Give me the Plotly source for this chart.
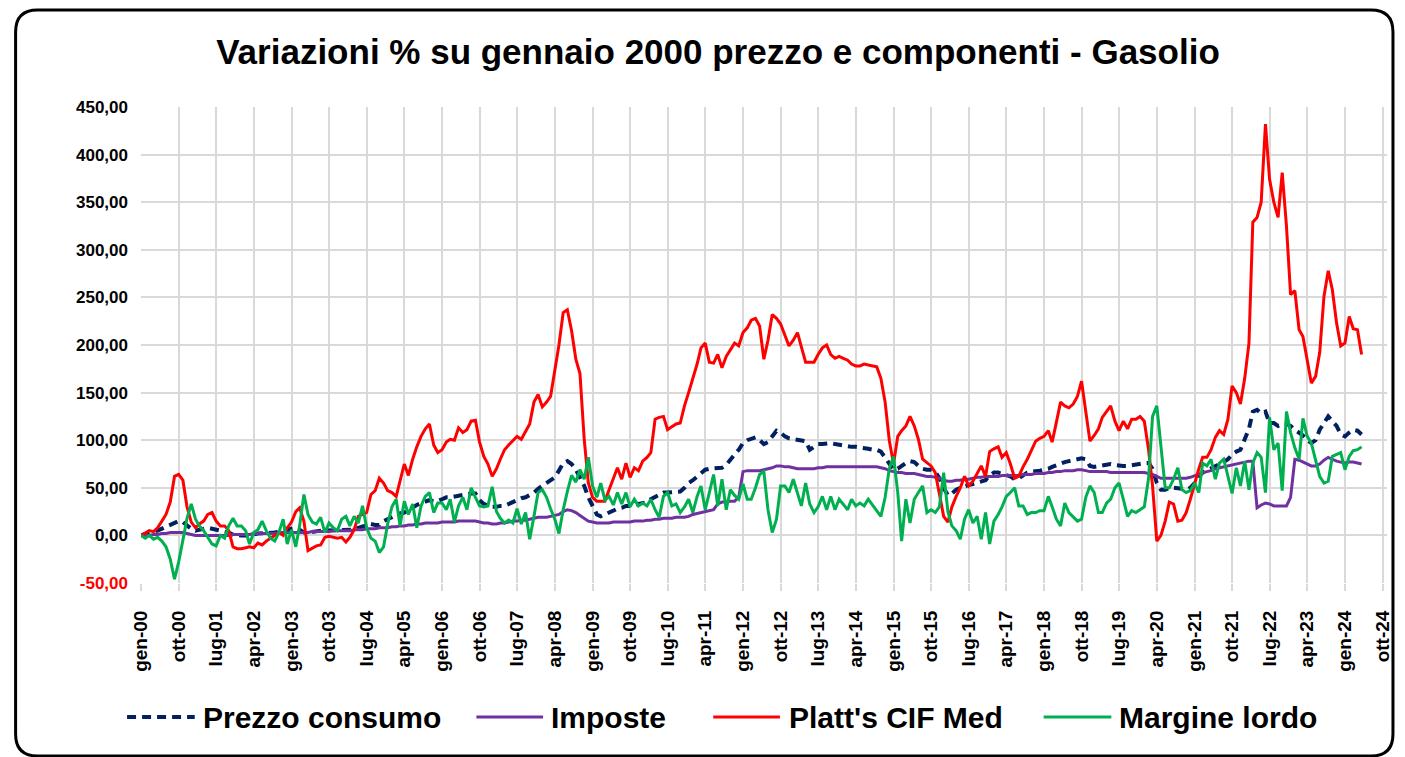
import pandas as pd
import plotly.graph_objects as go

# ---------------- DATA (monthly, gen-2000 .. mag-2024) ----------------
start_month = "2000-01-01"
n_months = 293

prezzo_consumo = (
    [0, 1, 3, 4, 5, 7, 9, 11, 13, 15, 14, 10] +
    [7, 5, 6, 8, 8, 7, 6, 5, 5, 3, 1, 0] +
    [0, 0, 0, 1, 2, 2, 3, 3, 3, 4, 5, 6] +
    [8, 8, 6, 3, 3, 4, 4, 5, 5, 5, 5, 5] +
    [5, 5, 5, 6, 8, 9, 10, 12, 11, 11, 15, 17] +
    [20, 21, 23, 24, 27, 30, 32, 34, 36, 37, 36, 36] +
    [38, 40, 40, 41, 41, 42, 43, 44, 44, 37, 33, 31] +
    [30, 30, 31, 31, 33, 35, 37, 39, 40, 42, 45, 49] +
    [52, 55, 58, 61, 68, 76, 78, 75, 69, 60, 52, 40] +
    [30, 22, 20, 22, 25, 27, 28, 29, 31, 31, 32, 32] +
    [34, 35, 38, 40, 43, 45, 45, 45, 45, 46, 50, 55] +
    [58, 62, 66, 69, 70, 70, 71, 71, 74, 80, 85, 90] +
    [97, 100, 102, 103, 100, 96, 98, 104, 110, 108, 104, 102] +
    [101, 100, 99, 99, 90, 93, 96, 96, 97, 97, 96, 95] +
    [94, 93, 93, 93, 92, 92, 91, 90, 90, 88, 82, 75] +
    [69, 70, 73, 76, 78, 77, 73, 70, 69, 69, 67, 60] +
    [50, 42, 44, 48, 50, 52, 53, 54, 55, 57, 58, 63] +
    [66, 66, 65, 64, 62, 59, 60, 63, 66, 67, 67, 68] +
    [69, 70, 72, 74, 76, 77, 78, 79, 80, 81, 80, 73] +
    [72, 73, 74, 75, 75, 74, 73, 73, 73, 74, 75, 75] +
    [76, 76, 70, 55, 48, 48, 50, 50, 50, 49, 48, 50] +
    [55, 62, 66, 68, 70, 73, 75, 77, 80, 85, 88, 90] +
    [101, 112, 130, 132, 128, 130, 118, 118, 115, 117, 117, 115] +
    [111, 108, 105, 100, 97, 100, 111, 118, 125, 120, 115, 106] +
    [104, 108, 111, 110, 106]
)

imposte = (
    [0, 0, 0, 1, 1, 2, 2, 3, 3, 3, 3, 2] +
    [1, 0, 0, 0, 0, 0, 0, 0, 0, 0, 1, 1] +
    [1, 1, 1, 2, 2, 2, 2, 2, 2, 3, 3, 3] +
    [3, 3, 3, 3, 3, 4, 4, 4, 4, 4, 5, 5] +
    [5, 5, 5, 6, 6, 6, 7, 7, 7, 8, 8, 8] +
    [9, 9, 10, 10, 11, 11, 12, 12, 13, 13, 13, 13] +
    [14, 14, 14, 14, 15, 15, 15, 15, 15, 14, 13, 13] +
    [12, 12, 13, 13, 14, 15, 15, 16, 16, 17, 18, 19] +
    [19, 19, 20, 21, 22, 25, 27, 26, 24, 21, 18, 15] +
    [14, 13, 13, 13, 13, 14, 14, 14, 14, 14, 15, 15] +
    [15, 16, 16, 17, 17, 18, 18, 18, 19, 19, 19, 20] +
    [22, 23, 24, 25, 26, 27, 33, 35, 35, 36, 36, 40] +
    [67, 68, 68, 68, 68, 69, 70, 71, 73, 73, 72, 72] +
    [71, 70, 70, 70, 70, 70, 71, 71, 72, 72, 72, 72] +
    [72, 72, 72, 72, 72, 72, 72, 72, 72, 71, 70, 68] +
    [67, 66, 66, 65, 65, 65, 64, 63, 62, 62, 61, 60] +
    [58, 57, 57, 58, 58, 59, 59, 60, 61, 61, 62, 62] +
    [62, 62, 63, 63, 63, 63, 63, 64, 64, 64, 65, 65] +
    [65, 66, 66, 67, 67, 68, 68, 68, 69, 69, 68, 67] +
    [67, 67, 67, 67, 66, 66, 66, 66, 66, 66, 66, 66] +
    [66, 65, 64, 62, 60, 60, 60, 60, 60, 60, 60, 61] +
    [63, 65, 66, 67, 68, 70, 71, 72, 73, 74, 75, 76] +
    [77, 78, 78, 29, 32, 34, 33, 31, 31, 31, 31, 40] +
    [80, 79, 77, 75, 73, 73, 75, 79, 82, 80, 78, 77] +
    [76, 77, 77, 76, 75]
)

platts_cif_med = (
    [0, 3, 5, 4, 8, 15, 22, 35, 62, 64, 58, 30] +
    [14, 8, 12, 15, 22, 24, 15, 10, 10, 5, -12, -14] +
    [-14, -13, -12, -13, -8, -10, -6, -3, 0, 3, 0, 8] +
    [14, 25, 29, 15, -16, -13, -11, -10, -2, -1, -2, -3] +
    [-2, -7, -2, 6, 20, 22, 24, 43, 47, 60, 55, 47] +
    [45, 41, 58, 75, 63, 80, 93, 104, 112, 117, 95, 87] +
    [90, 98, 101, 100, 113, 108, 111, 120, 121, 98, 83, 75] +
    [62, 70, 80, 90, 95, 100, 104, 101, 110, 117, 140, 148] +
    [135, 140, 146, 174, 200, 234, 237, 215, 185, 170, 101, 55] +
    [40, 36, 36, 36, 48, 60, 71, 59, 76, 61, 71, 68] +
    [78, 82, 87, 122, 124, 125, 111, 114, 117, 118, 136, 150] +
    [165, 180, 197, 202, 182, 181, 190, 176, 188, 195, 202, 199] +
    [213, 218, 226, 228, 220, 185, 205, 232, 228, 222, 210, 199] +
    [205, 213, 198, 182, 182, 182, 190, 197, 200, 190, 186, 188] +
    [186, 184, 180, 178, 178, 180, 179, 178, 177, 165, 140, 100] +
    [75, 104, 110, 115, 125, 115, 101, 80, 76, 73, 66, 45] +
    [20, 14, 30, 41, 50, 62, 52, 57, 65, 73, 62, 88] +
    [91, 93, 82, 87, 75, 60, 62, 72, 80, 90, 99, 102] +
    [104, 110, 98, 119, 140, 136, 134, 138, 146, 162, 132, 99] +
    [105, 112, 124, 130, 136, 120, 110, 120, 112, 122, 122, 125] +
    [120, 90, 52, -6, 0, 15, 35, 33, 15, 16, 24, 38] +
    [55, 70, 82, 82, 90, 103, 110, 106, 122, 157, 150, 138] +
    [165, 202, 329, 334, 350, 432, 374, 350, 334, 381, 325, 253] +
    [257, 216, 209, 185, 160, 167, 192, 251, 278, 258, 223, 199] +
    [202, 230, 217, 216, 190]
)

margine_lordo = (
    [0, -3, 0, -4, -2, -6, -12, -25, -46, -28, -5, 18] +
    [33, 17, 10, 5, -2, -9, -11, 0, -3, 10, 18, 10] +
    [10, 5, -9, 3, 6, 15, 5, -3, -6, 3, 17, -9] +
    [6, -12, 10, 43, 22, 14, 12, 19, 3, 13, 8, 5] +
    [17, 20, 10, 20, 13, 31, 8, -3, -6, -18, -12, 12] +
    [30, 38, 10, 36, 22, 33, 8, 31, 41, 45, 24, 34] +
    [34, 27, 38, 14, 31, 40, 27, 50, 40, 31, 30, 31] +
    [51, 25, 18, 13, 16, 13, 28, 12, 24, -4, 20, 45] +
    [48, 40, 28, 17, 2, 27, 46, 63, 56, 69, 59, 82] +
    [52, 40, 55, 37, 41, 32, 45, 33, 45, 30, 38, 31] +
    [34, 31, 38, 27, 19, 41, 45, 31, 33, 24, 30, 38] +
    [24, 41, 52, 27, 45, 64, 31, 59, 27, 48, 42, 38] +
    [54, 38, 38, 50, 64, 67, 27, 3, 17, 52, 52, 45] +
    [59, 45, 31, 55, 33, 24, 30, 41, 27, 41, 27, 38] +
    [32, 27, 38, 31, 34, 31, 38, 32, 27, 20, 40, 70] +
    [83, 45, -6, 38, 13, 38, 45, 52, 24, 27, 24, 30] +
    [66, 25, 10, 5, -4, 17, 27, 13, 20, -4, 24, -9] +
    [15, 22, 30, 41, 45, 50, 31, 31, 22, 24, 24, 26] +
    [26, 41, 30, 17, 10, 34, 24, 20, 15, 17, 40, 52] +
    [45, 24, 24, 34, 38, 50, 55, 38, 20, 26, 24, 27] +
    [30, 60, 125, 136, 90, 50, 50, 59, 71, 48, 45, 47] +
    [55, 45, 76, 73, 80, 59, 76, 80, 62, 44, 71, 52] +
    [78, 48, 76, 87, 82, 45, 124, 90, 97, 47, 130, 108] +
    [92, 80, 123, 104, 97, 78, 62, 55, 57, 83, 85, 87] +
    [69, 83, 89, 90, 93]
)

series_names = ["Prezzo consumo", "Imposte", "Platt's CIF Med", "Margine lordo"]

x_tick_labels = ["gen-00", "ott-00", "lug-01", "apr-02", "gen-03", "ott-03", "lug-04",
                 "apr-05", "gen-06", "ott-06", "lug-07", "apr-08", "gen-09", "ott-09",
                 "lug-10", "apr-11", "gen-12", "ott-12", "lug-13", "apr-14", "gen-15",
                 "ott-15", "lug-16", "apr-17", "gen-18", "ott-18", "lug-19", "apr-20",
                 "gen-21", "ott-21", "lug-22", "apr-23", "gen-24", "ott-24"]
y_tick_values = [-50, 0, 50, 100, 150, 200, 250, 300, 350, 400, 450]

title_text = "Variazioni % su gennaio 2000 prezzo e componenti - Gasolio"

# ---------------- FIGURE ----------------
W, H = 1405, 757
ML, MR, MT, MB = 141, 12, 107, 174
PW, PH = W - ML - MR, H - MT - MB

def px_x(px):
    return (px - ML) / PW

def px_y(py):
    return (H - MB - py) / PH

dates = pd.date_range(start_month, periods=n_months, freq="MS")
tick_dates = pd.date_range(start_month, periods=len(x_tick_labels), freq="9MS")

colors = ["#002060", "#7030A0", "#FF0000", "#00B050"]
widths = [4, 3, 3, 3]
dashes = ["9px,6px", "solid", "solid", "solid"]
values = [prezzo_consumo, imposte, platts_cif_med, margine_lordo]

FONT = "Liberation Sans, Arial, sans-serif"

fig = go.Figure()
for name, vals, c, w, d in zip(series_names, values, colors, widths, dashes):
    fig.add_trace(go.Scatter(x=dates, y=vals, mode="lines", name=name,
                             line=dict(color=c, width=w, dash=d),
                             showlegend=False))

def fmt(v):
    s = f"{v:.2f}".replace(".", ",")
    return f"<span style='color:#FF0000'>{s}</span>" if v < 0 else s

fig.update_layout(
    width=W, height=H,
    margin=dict(l=ML, r=MR, t=MT, b=MB),
    paper_bgcolor="white", plot_bgcolor="white",
    title=dict(text=title_text, x=718 / W, xanchor="center", y=1 - 52 / H, yanchor="middle",
               font=dict(family=FONT, size=35, color="black", weight="bold")),
    xaxis=dict(type="date", range=["2000-01-01", "2024-11-02"],
               tickmode="array", tickvals=tick_dates, ticktext=x_tick_labels,
               tickangle=-90, showgrid=True, gridcolor="#D9D9D9", gridwidth=2,
               ticks="outside", ticklen=7, tickwidth=2, tickcolor="#D9D9D9",
               zeroline=False, showline=False, ticklabelstandoff=12,
               tickfont=dict(family=FONT, size=19, color="black", weight="bold")),
    yaxis=dict(range=[-50, 450], tickmode="array", tickvals=y_tick_values,
               ticktext=[fmt(v) for v in y_tick_values],
               showgrid=True, gridcolor="#D9D9D9", gridwidth=2, zeroline=False,
               showline=False, ticks="", ticklabelstandoff=12,
               tickfont=dict(family=FONT, size=17, color="black", weight="bold")),
)

# ---- legend drawn manually (long Excel-style keys) ----
legend_y = 717
legend_keys = [(127, 195, 201), (478, 545, 551), (716, 783, 790), (1048, 1116, 1122)]
for (x0, x1, xt), name, c, w, d in zip(legend_keys, series_names, colors, widths, dashes):
    fig.add_shape(type="line", xref="paper", yref="paper",
                  x0=px_x(x0), x1=px_x(x1), y0=px_y(legend_y), y1=px_y(legend_y),
                  line=dict(color=c, width=w, dash=d))
    fig.add_annotation(text=name, xref="paper", yref="paper", x=px_x(xt), y=px_y(legend_y),
                       xanchor="left", yanchor="middle", showarrow=False,
                       font=dict(family=FONT, size=30, color="black", weight="bold"))

# ---- rounded chart border ----
L, T, R, B, r = 15, 10, 1399, 756, 22
path = (f"M {px_x(L + r)},{px_y(T)} L {px_x(R - r)},{px_y(T)} "
        f"Q {px_x(R)},{px_y(T)} {px_x(R)},{px_y(T + r)} L {px_x(R)},{px_y(B - r)} "
        f"Q {px_x(R)},{px_y(B)} {px_x(R - r)},{px_y(B)} L {px_x(L + r)},{px_y(B)} "
        f"Q {px_x(L)},{px_y(B)} {px_x(L)},{px_y(B - r)} L {px_x(L)},{px_y(T + r)} "
        f"Q {px_x(L)},{px_y(T)} {px_x(L + r)},{px_y(T)} Z")
fig.add_shape(type="path", xref="paper", yref="paper", path=path,
              line=dict(color="black", width=3), fillcolor="rgba(0,0,0,0)", layer="above")

fig.write_html("out.html",
               config={"displayModeBar": False},
               post_script="document.body.style.margin='0px';document.body.style.overflow='hidden';")
